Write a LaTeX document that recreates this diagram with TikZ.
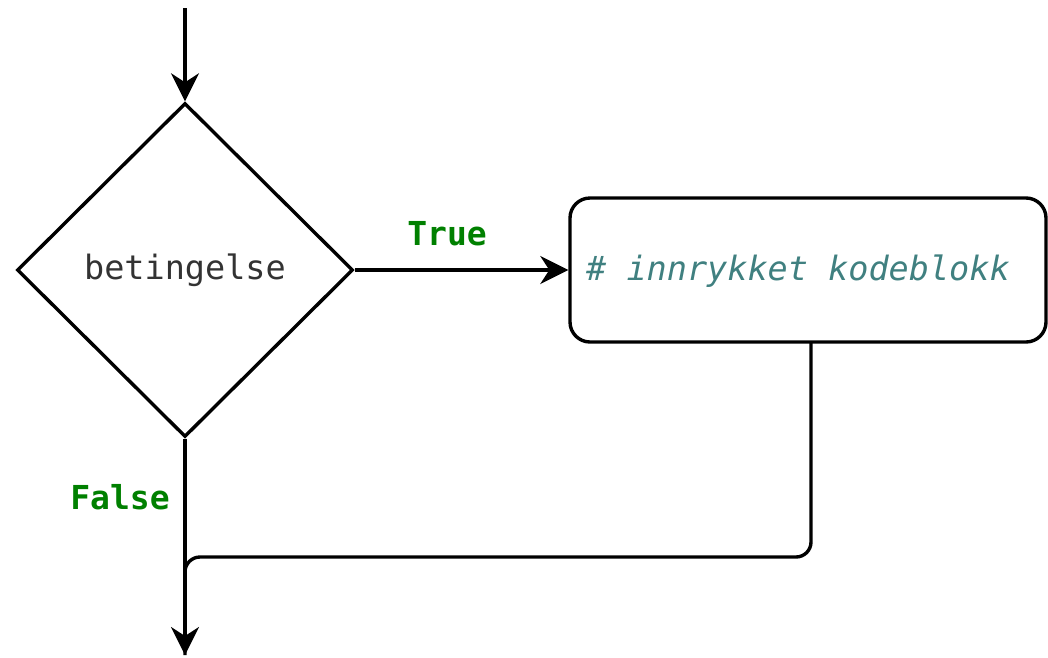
\documentclass[tikz,border=0pt]{standalone}
\usepackage{fontspec}
\setmonofont{DejaVu Sans Mono}
\usetikzlibrary{arrows.meta,shapes.geometric}
\definecolor{labelgreen}{HTML}{008000}
\definecolor{commentteal}{HTML}{408080}
\definecolor{codegray}{HTML}{333333}
\tikzset{
  flow/.style={line width=3.4pt, -{Stealth[length=28pt,width=28pt,inset=9pt]}},
  plainline/.style={line width=3.4pt},
  codefont/.style={font=\ttfamily\fontsize{33.5}{40}\selectfont},
  branchlabel/.style={font=\ttfamily\bfseries\fontsize{33}{40}\selectfont, text=labelgreen},
  decision/.style={draw, line width=3.4pt, diamond, minimum width=336pt, minimum height=334pt, inner sep=0pt, aspect=1},
  blockbox/.style={draw, line width=3.4pt, rounded corners=20pt, minimum width=476pt, minimum height=144pt, inner sep=0pt},
}
\begin{document}
\begin{tikzpicture}[x=1pt,y=-1pt]
  \useasboundingbox (0,0) rectangle (1048,657);
  % decision and the indented block
  \node[decision] (cond) at (185,270) {};
  \node[codefont, text=codegray] (condtext) at (185,270) {betingelse};
  \node[blockbox] (block) at (808,270) {};
  \node[font=\ttfamily\itshape\fontsize{33.5}{40}\selectfont, text=commentteal] (blocktext) at (798,271) {\# innrykket kodeblokk};
  % entry and exit points
  \coordinate (entry) at (185,8);
  \coordinate (exit) at (185,655);
  \coordinate (blockout) at (811,343);
  \coordinate (joinright) at (811,557);
  \coordinate (joinleft) at (185,557);
  % connectors
  \draw[flow] (entry) -- (cond.north);
  \draw[flow] (cond.east) -- (block.west);
  \draw[flow] (cond.south) -- (exit);
  \draw[plainline, rounded corners=15pt] (blockout) -- (joinright) -- (joinleft) -- (exit);
  % branch labels
  \node[branchlabel] (truelabel) at (447,234) {True};
  \node[branchlabel] (falselabel) at (120,497) {False};
\end{tikzpicture}
\end{document}
